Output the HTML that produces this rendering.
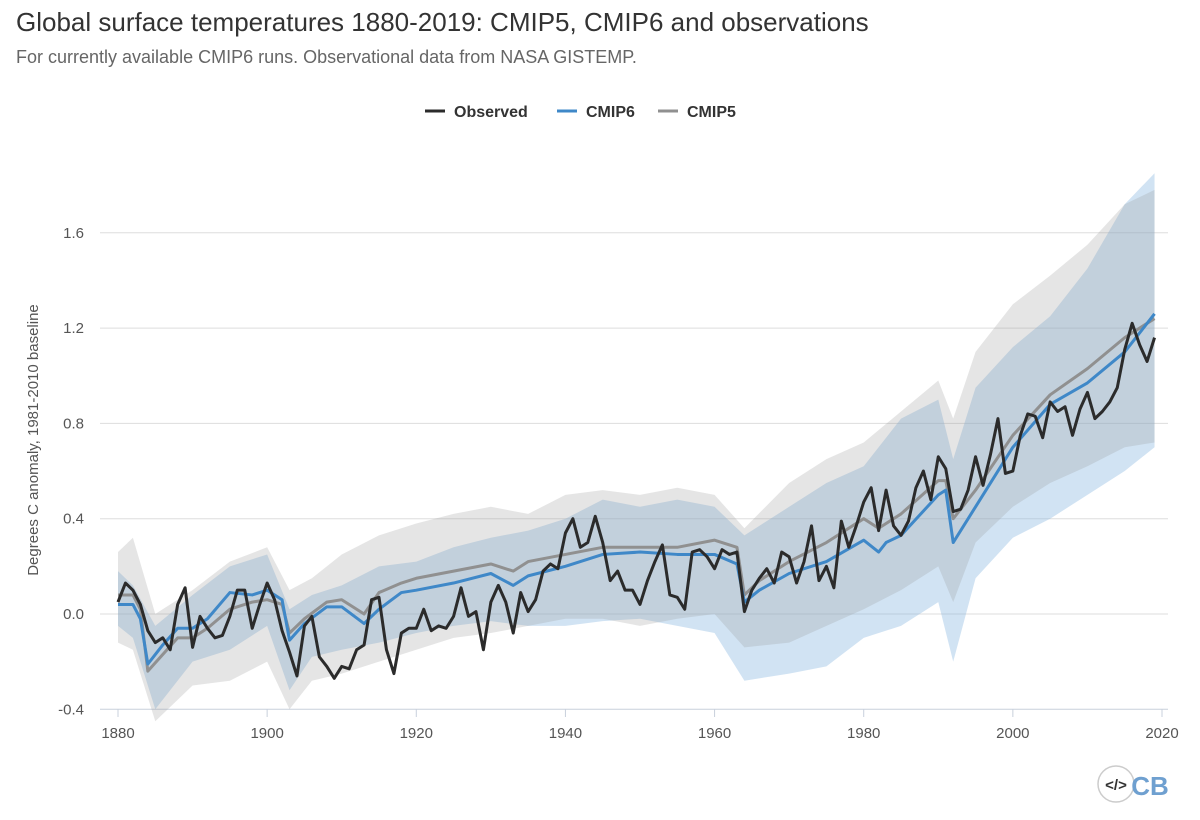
<!DOCTYPE html>
<html><head><meta charset="utf-8">
<style>
body{margin:0;background:#fff;font-family:"Liberation Sans",sans-serif;}
#wrap{position:relative;width:1200px;height:820px;overflow:hidden;}
.t{position:absolute;left:16px;top:7px;font-size:26px;color:#333;}
.s{position:absolute;left:16px;top:47px;font-size:18px;color:#666;}
</style></head><body>
<div id="wrap">
<div class="t">Global surface temperatures 1880-2019: CMIP5, CMIP6 and observations</div>
<div class="s">For currently available CMIP6 runs. Observational data from NASA GISTEMP.</div>
<svg id="svg" width="1200" height="820" style="position:absolute;left:0;top:0"></svg>
</div>
<script>
const obsYears0=1880;
const observed=[0.05,0.13,0.10,0.04,-0.07,-0.12,-0.10,-0.15,0.04,0.11,
-0.14,-0.01,-0.06,-0.10,-0.09,-0.01,0.10,0.10,-0.06,0.04,
0.13,0.06,-0.07,-0.16,-0.26,-0.05,-0.01,-0.18,-0.22,-0.27,
-0.22,-0.23,-0.15,-0.13,0.06,0.07,-0.15,-0.25,-0.08,-0.06,
-0.06,0.02,-0.07,-0.05,-0.06,-0.01,0.11,-0.01,0.01,-0.15,
0.05,0.12,0.05,-0.08,0.09,0.01,0.06,0.18,0.21,0.19,
0.34,0.40,0.28,0.30,0.41,0.30,0.14,0.18,0.10,0.10,
0.04,0.14,0.22,0.29,0.08,0.07,0.02,0.26,0.27,0.24,
0.19,0.27,0.25,0.26,0.01,0.10,0.15,0.19,0.13,0.26,
0.24,0.13,0.22,0.37,0.14,0.20,0.11,0.39,0.28,0.37,
0.47,0.53,0.35,0.52,0.37,0.33,0.39,0.53,0.60,0.48,
0.66,0.61,0.43,0.44,0.52,0.66,0.54,0.67,0.82,0.59,
0.60,0.75,0.84,0.83,0.74,0.89,0.85,0.87,0.75,0.86,
0.93,0.82,0.85,0.89,0.95,1.11,1.22,1.13,1.06,1.16];
const modelYears=[1880,1882,1883,1884,1886,1888,1890,1892,1895,1898,1900,1902,1903,1905,1908,1910,1913,1915,1918,1920,1925,1930,1933,1935,1940,1945,1950,1955,1960,1963,1964,1966,1970,1975,1980,1982,1983,1985,1990,1991,1992,1995,2000,2005,2010,2015,2019];
const cmip6Mean=[0.04,0.04,-0.02,-0.21,-0.13,-0.06,-0.06,-0.02,0.09,0.08,0.10,0.06,-0.11,-0.04,0.03,0.03,-0.04,0.02,0.09,0.10,0.13,0.17,0.12,0.16,0.20,0.25,0.26,0.25,0.25,0.21,0.05,0.10,0.17,0.22,0.31,0.26,0.30,0.33,0.50,0.52,0.30,0.45,0.70,0.88,0.97,1.10,1.26];
const cmip5Mean=[0.08,0.08,0.02,-0.24,-0.17,-0.10,-0.10,-0.06,0.02,0.05,0.06,0.04,-0.08,-0.02,0.05,0.06,0.00,0.09,0.13,0.15,0.18,0.21,0.18,0.22,0.25,0.28,0.28,0.28,0.31,0.28,0.08,0.14,0.22,0.30,0.40,0.36,0.38,0.42,0.56,0.56,0.40,0.52,0.75,0.92,1.03,1.16,1.24];
const bandYears=[1880,1882,1885,1890,1895,1900,1903,1906,1910,1915,1920,1925,1930,1935,1940,1945,1950,1955,1960,1964,1970,1975,1980,1985,1990,1992,1995,2000,2005,2010,2015,2019];
const cmip5Upper=[0.26,0.32,0.00,0.10,0.22,0.28,0.10,0.15,0.25,0.33,0.38,0.42,0.45,0.42,0.50,0.52,0.50,0.53,0.50,0.36,0.55,0.65,0.72,0.85,0.98,0.82,1.10,1.30,1.42,1.55,1.72,1.78];
const cmip5Lower=[-0.12,-0.15,-0.45,-0.30,-0.28,-0.20,-0.40,-0.28,-0.25,-0.20,-0.15,-0.10,-0.08,-0.05,-0.02,-0.02,-0.05,-0.02,0.00,-0.14,-0.12,-0.05,0.02,0.10,0.20,0.05,0.30,0.45,0.55,0.62,0.70,0.72];
const cmip6Upper=[0.18,0.12,-0.05,0.08,0.20,0.25,0.02,0.08,0.12,0.20,0.22,0.28,0.32,0.35,0.40,0.48,0.45,0.48,0.45,0.33,0.45,0.55,0.62,0.82,0.90,0.65,0.95,1.12,1.25,1.45,1.72,1.85];
const cmip6Lower=[-0.05,-0.10,-0.40,-0.20,-0.15,-0.05,-0.32,-0.18,-0.15,-0.12,-0.08,-0.05,-0.03,-0.05,-0.05,-0.03,-0.02,-0.05,-0.08,-0.28,-0.25,-0.22,-0.10,-0.05,0.05,-0.20,0.15,0.32,0.40,0.50,0.60,0.70];
const yTicks=[-0.4,0.0,0.4,0.8,1.2,1.6];
const yTickLabels=["-0.4","0.0","0.4","0.8","1.2","1.6"];
const xTicks=[1880,1900,1920,1940,1960,1980,2000,2020];

const NS="http://www.w3.org/2000/svg";
const svg=document.getElementById('svg');
const X=y=>118+(y-1880)*(1044/140);
const Y=v=>614-v*(95.3/0.4);
function mk(t,a,p){const e=document.createElementNS(NS,t);for(const k in a)e.setAttribute(k,a[k]);(p||svg).appendChild(e);return e;}
yTicks.forEach((v,i)=>{
 const g=mk('line',{x1:100,x2:1168,y1:Y(v),y2:Y(v),stroke:i==0?'#c8d0dc':'#ddd','stroke-width':1});
 
 
 const t=mk('text',{x:84,y:Y(v)+5,'text-anchor':'end','font-size':15,fill:'#555'});
 t.textContent=yTickLabels[i];
 
 
});
xTicks.forEach(y=>{
 const l=mk('line',{x1:X(y),x2:X(y),y1:709,y2:717,stroke:'#c8d0dc'});
 
 
 const t=mk('text',{x:X(y),y:738,'text-anchor':'middle','font-size':15,fill:'#555'});
 t.textContent=y;
 
 
});
const yt=mk('text',{x:0,y:0,transform:'translate(38,440) rotate(-90)','text-anchor':'middle','font-size':15,fill:'#555'});
yt.textContent='Degrees C anomaly, 1981-2010 baseline';


function band(up,lo,fill,name){
 let d='M'+bandYears.map((y,i)=>X(y)+','+Y(up[i])).join('L');
 for(let i=bandYears.length-1;i>=0;i--)d+='L'+X(bandYears[i])+','+Y(lo[i]);
 const p=mk('path',{d:d+'Z',fill:fill,stroke:'none'});
 
 
}
band(cmip6Upper,cmip6Lower,'rgba(140,185,225,0.4)','cmip6-range-band');
band(cmip5Upper,cmip5Lower,'rgba(150,150,150,0.25)','cmip5-range-band');
function line(xs,vs,col,name,w){
 const p=mk('path',{d:'M'+vs.map((v,i)=>X(xs[i])+','+Y(v)).join('L'),fill:'none',stroke:col,'stroke-width':w,'stroke-linejoin':'round'});
 
 
}
line(modelYears,cmip5Mean,'#909090','cmip5-line',3);
line(modelYears,cmip6Mean,'#3f88c8','cmip6-line',3);
line(observed.map((v,i)=>obsYears0+i),observed,'#2b2b2b','observed-line',3);
const leg=[['Observed','#2b2b2b',425],['CMIP6','#3f88c8',557],['CMIP5','#909090',658]];
leg.forEach(([n,c,x])=>{
 const g=mk('g',{});
 
 
 mk('line',{x1:x,x2:x+20,y1:111,y2:111,stroke:c,'stroke-width':3},g);
 const t=mk('text',{x:x+29,y:117,'font-size':16,'font-weight':'bold',fill:'#333'},g);
 t.textContent=n;
});
const lg=mk('g',{});


mk('circle',{cx:1116,cy:784,r:18,fill:'#fff',stroke:'#ccc','stroke-width':1.5},lg);
const et=mk('text',{x:1116,y:790,'text-anchor':'middle','font-size':15,'font-weight':'bold',fill:'#333'},lg);
et.textContent='</>';
const cb=mk('text',{x:1150,y:795,'text-anchor':'middle','font-size':26,'font-weight':'bold',fill:'#6fa0d0'});
cb.textContent='CB';


</script>
</body></html>
